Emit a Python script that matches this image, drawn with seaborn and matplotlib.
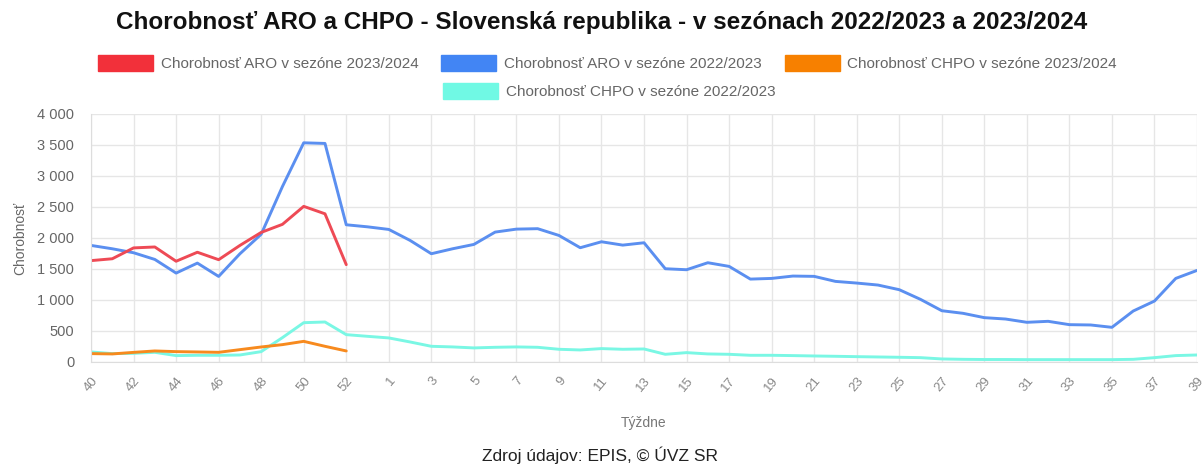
import pandas as pd
import matplotlib
matplotlib.use("Agg")
import matplotlib.pyplot as plt
from matplotlib.patches import Patch
from matplotlib.ticker import FuncFormatter, FixedLocator
import seaborn as sns

# week labels of the season (2022/2023 had week 53)
weeks = list(range(40, 54)) + list(range(1, 40))

aro_2324 = [1635, 1665, 1840, 1855, 1625, 1770, 1650, 1880, 2090, 2220, 2510, 2390, 1570]
chpo_2324 = [135, 130, 155, 178, 167, 162, 156, 199, 242, 280, 333, 253, 178]

aro_2223 = [1880, 1826, 1762, 1654, 1434, 1595, 1380, 1745, 2060, 2830, 3535, 3525, 2213,
            2180, 2138, 1961, 1746, 1826, 1896, 2095, 2143, 2150, 2041, 1843, 1939, 1885,
            1923, 1504, 1488, 1601, 1542, 1337, 1348, 1386, 1381, 1300, 1273, 1241, 1166, 1010,
            827, 785, 715, 693, 640, 656, 602, 597, 559, 822, 983, 1348, 1477]
chpo_2223 = [162, 135, 140, 156, 103, 108, 108, 113, 167, 393, 634, 645, 441, 414,
             388, 323, 253, 243, 227, 237, 243, 237, 205, 194, 216, 205,
             210, 124, 151, 130, 124, 108, 108, 103, 97, 92, 86, 81, 76, 70,
             49, 43, 40, 40, 38, 38, 38, 38, 38, 43, 70, 103, 113]

series_names = ["Chorobnosť ARO v sezóne 2023/2024", "Chorobnosť ARO v sezóne 2022/2023",
                "Chorobnosť CHPO v sezóne 2023/2024", "Chorobnosť CHPO v sezóne 2022/2023"]
line_colors = ["#ee4a55", "#5b8ff0", "#f78a1e", "#7af7e4"]
box_colors = ["#f2303a", "#4285f4", "#f78000", "#70f9e4"]

rows = []
for name, vals in zip(series_names, [aro_2324, aro_2223, chpo_2324, chpo_2223]):
    for i, v in enumerate(vals):
        rows.append({"idx": i, "value": v, "serie": name})
df = pd.DataFrame(rows)

sns.set_style("white")
plt.rcParams["font.family"] = ["Liberation Sans", "DejaVu Sans"]

fig = plt.figure(figsize=(12.04, 4.66), dpi=100)
ax = fig.add_axes([0.0756, 0.2232, 0.9186, 0.5322])

# draw in reverse so the current season sits on top
order = series_names[::-1]
sns.lineplot(data=df, x="idx", y="value", hue="serie", hue_order=order,
             palette=dict(zip(series_names, line_colors)), linewidth=2.1,
             legend=False, ax=ax, sort=False)

ax.set_xlim(0, len(weeks) - 1)
ax.set_ylim(0, 4000)
ax.xaxis.set_major_locator(FixedLocator(range(0, len(weeks), 2)))
ax.set_xticklabels([str(weeks[i]) for i in range(0, len(weeks), 2)], rotation=50,
                   ha="right", rotation_mode="anchor", color="#888888", fontsize=9.5)
ax.set_yticks(range(0, 4001, 500))
ax.yaxis.set_major_formatter(FuncFormatter(lambda v, p: f"{int(v):,}".replace(",", " ")))
ax.tick_params(axis="y", colors="#666666", labelsize=10.5, length=0, pad=12)
ax.tick_params(axis="x", colors="#dddddd", labelcolor="#888888", length=6, pad=3)
ax.grid(True, color="#e6e6e6", linewidth=1)
for s in ["top", "right"]:
    ax.spines[s].set_visible(False)
ax.spines["left"].set_color("#dddddd")
ax.spines["bottom"].set_color("#dddddd")
ax.set_xlabel("Týždne", color="#777777", fontsize=10, labelpad=16)
ax.set_ylabel("Chorobnosť", color="#666666", fontsize=10, labelpad=7)

fig.text(0.5, 0.951, "Chorobnosť ARO a CHPO - Slovenská republika - v sezónach 2022/2023 a 2023/2024",
         ha="center", va="center", fontsize=17.5, fontweight="bold", color="#111111")

handles = [Patch(facecolor=c, edgecolor=c) for c in box_colors]
leg_kw = dict(frameon=False, handlelength=3.6, handleheight=1.18,
              handletextpad=0.5, columnspacing=1.5, labelcolor="#666666",
              prop={"family": ["Liberation Sans", "DejaVu Sans"], "size": 11})
fig.legend(handles[:3], series_names[:3], ncol=3, loc="center",
           bbox_to_anchor=(0.5045, 0.864), **leg_kw)
fig.legend(handles[3:], series_names[3:], ncol=1, loc="center",
           bbox_to_anchor=(0.506, 0.804), **leg_kw)

fig.text(0.4985, 0.022, "Zdroj údajov: EPIS, © ÚVZ SR", ha="center", va="center",
         fontsize=12.5, color="#222222")

fig.savefig("out.png", dpi=100)
